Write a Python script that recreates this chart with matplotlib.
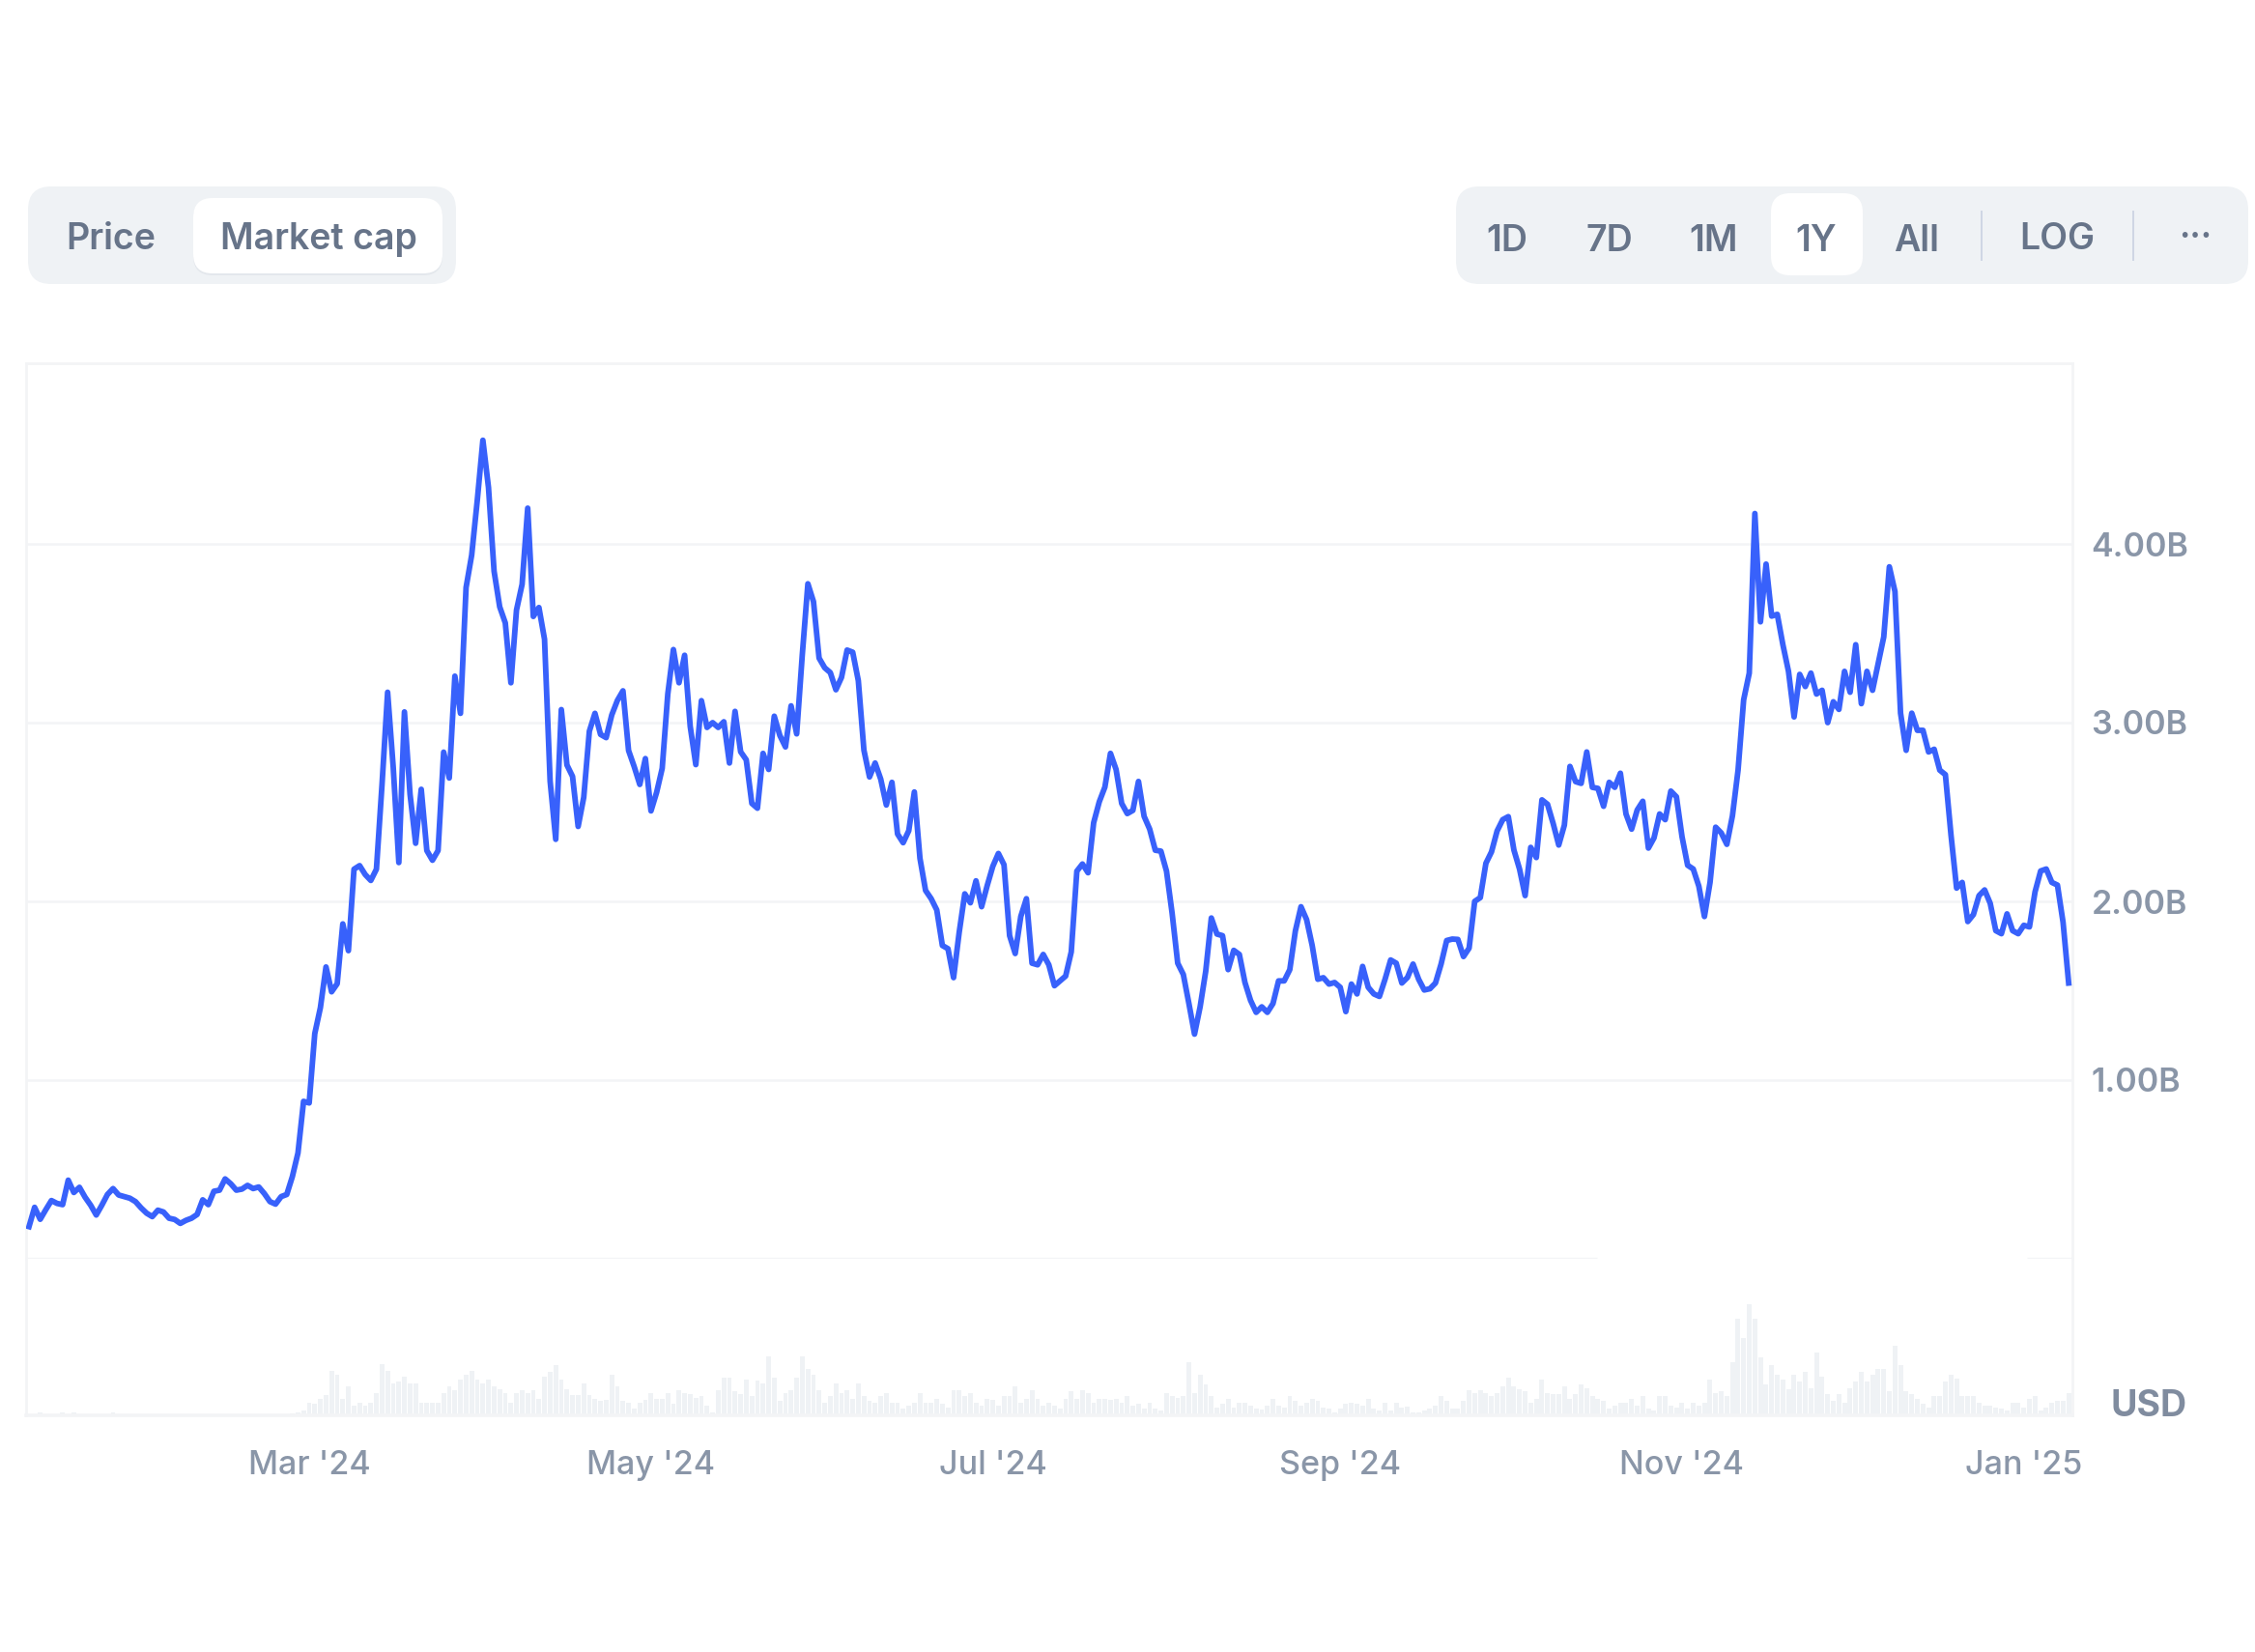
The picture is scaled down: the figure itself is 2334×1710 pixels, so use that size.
import pandas as pd
import matplotlib.pyplot as plt
from matplotlib.patches import FancyBboxPatch

# ---- Data ----
y_ticks = [1, 2, 3, 4]
y_labels = ["1.00B", "2.00B", "3.00B", "4.00B"]
x_ticks = ["2024-03-01", "2024-05-01", "2024-07-01", "2024-09-01", "2024-11-01", "2025-01-01"]
x_labels = ["Mar '24", "May '24", "Jul '24", "Sep '24", "Nov '24", "Jan '25"]

# daily market cap in billions, starting 2024-01-11
mcap = [
    .18, .288, .221, .275, .326, .31, .303, .44, .371, .40, .345, .30, .245, .30, .36, .393, .357, .348, .339, .32,
    .285, .255, .236, .272, .262, .227, .22, .198, .215, .227, .248, .33, .303, .378, .384, .447, .42, .384, .39, .411,
    .393, .402, .365, .32, .306, .348, .36, .46, .592, .881, .872, 1.26, 1.405, 1.633, 1.494, 1.539, 1.874, 1.724, 2.18, 2.2,
    2.15, 2.117, 2.18, 2.654, 3.17, 2.75, 2.217, 3.06, 2.6, 2.325, 2.627, 2.284, 2.23, 2.284,
    2.835, 2.69, 3.26, 3.052, 3.756, 3.937, 4.244, 4.58, 4.316, 3.847, 3.648, 3.558, 3.223, 3.63, 3.774, 4.2,
    3.594, 3.644, 3.467, 2.672, 2.347, 3.073, 2.763, 2.699, 2.419, 2.582, 2.952, 3.052, 2.934, 2.916, 3.043, 3.124,
    3.178, 2.844, 2.754, 2.654, 2.799, 2.506, 2.609, 2.744, 3.16, 3.409, 3.223, 3.377, 2.979,
    2.765, 3.123, 2.973, 3.0, 2.973, 3.005, 2.774, 3.063, 2.837, 2.792, 2.548, 2.521, 2.828, 2.738, 3.036, 2.928,
    2.864, 3.094, 2.937, 3.379, 3.777, 3.677, 3.361, 3.307, 3.28, 3.184, 3.253, 3.406, 3.394, 3.235, 2.846, 2.696,
    2.774, 2.684, 2.539, 2.666, 2.377, 2.328, 2.395, 2.612, 2.241, 2.061, 2.015, 1.952, 1.753, 1.735, 1.573, 1.826,
    2.042, 1.992, 2.115, 1.970, 2.088, 2.196, 2.268, 2.205, 1.808, 1.708, 1.916, 2.015, 1.654, 1.645, 1.703, 1.645,
    1.528, 1.555, 1.582, 1.717, 2.169, 2.209, 2.16, 2.44, 2.557, 2.639, 2.828, 2.738, 2.548, 2.491, 2.509, 2.671,
    2.476, 2.404, 2.286, 2.281, 2.169, 1.934, 1.654, 1.591, 1.428, 1.257, 1.41, 1.609, 1.907, 1.817, 1.808, 1.618,
    1.726, 1.703, 1.546, 1.446, 1.379, 1.41, 1.379, 1.428, 1.555, 1.555, 1.618, 1.835, 1.970, 1.898, 1.753, 1.564,
    1.573, 1.537, 1.546, 1.519, 1.383, 1.537, 1.482, 1.636, 1.519, 1.482, 1.468, 1.564, 1.672, 1.654,
    1.543, 1.574, 1.649, 1.564, 1.504, 1.511, 1.543, 1.649, 1.781, 1.789, 1.787, 1.691, 1.738, 2.0, 2.021, 2.213,
    2.277, 2.394, 2.457, 2.474, 2.287, 2.181, 2.032, 2.302, 2.245, 2.568, 2.543, 2.436, 2.315, 2.426, 2.755, 2.67,
    2.66, 2.836, 2.638, 2.632, 2.532, 2.666, 2.638, 2.717, 2.489, 2.404, 2.511, 2.56, 2.298, 2.355, 2.489, 2.457,
    2.617, 2.585, 2.362, 2.202, 2.181, 2.085, 1.915, 2.106, 2.415, 2.383, 2.319, 2.479, 2.734, 3.128, 3.277, 4.17,
    3.564, 3.887, 3.596, 3.606, 3.436, 3.287, 3.032, 3.27, 3.202, 3.277, 3.16, 3.181, 3.0, 3.117, 3.074, 3.287,
    3.17, 3.436, 3.106, 3.287, 3.181, 3.33, 3.479, 3.872, 3.734, 3.053, 2.845, 3.053, 2.957, 2.957, 2.836, 2.851,
    2.734, 2.709, 2.372, 2.074, 2.106, 1.887, 1.926, 2.032, 2.064, 1.989, 1.836, 1.819, 1.93, 1.836, 1.819, 1.866,
    1.857, 2.053, 2.17, 2.181, 2.106, 2.091, 1.883, 1.543,
]

# daily volume, arbitrary units (only the relative height can be read)
volume = [
    3, 3, 10, 3, 3, 3, 10, 3, 10, 3, 3, 3, 3, 3, 3, 10, 3, 3, 3, 3, 3, 3, 3, 3, 3, 3,
    3, 3, 3, 3, 3, 3, 3, 3, 3, 3, 3, 3, 3, 3, 3, 3, 3, 3, 3, 3, 3, 5, 8,
    15, 40, 35, 50, 62, 138, 125, 50, 90, 30, 40, 30, 40, 70, 158, 138, 100, 105, 120, 100,
    100, 40, 40, 40, 40, 68, 90, 78, 110, 125, 138, 112, 98, 110, 90, 80, 70, 40, 70, 78, 70,
    78, 50, 120, 135, 155, 110, 80, 62, 62, 100, 62, 50, 45, 48, 125, 90, 45, 40, 20, 38,
    48, 70, 50, 50, 68, 35, 78, 68, 65, 55, 60, 30, 10, 78, 118, 118, 75, 65, 110, 60,
    108, 100, 182, 118, 45, 70, 78, 118, 182, 145, 125, 78, 40, 60, 98, 68, 78, 50, 98, 60,
    45, 40, 60, 70, 40, 40, 20, 30, 40, 70, 40, 40, 50, 35, 25, 78, 78, 60, 70, 40,
    30, 50, 48, 30, 60, 60, 90, 40, 50, 78, 50, 30, 40, 30, 20,
    50, 75, 50, 78, 70, 40, 50, 50, 48, 50, 40, 60, 30, 35, 20, 40, 20, 15, 70, 60,
    55, 60, 165, 70, 125, 95, 60, 25, 35, 50, 25, 40, 38, 30, 20, 18, 30, 50, 30, 25,
    60, 45, 30, 40, 50, 45, 25, 20, 8, 20, 35, 38, 35, 30, 50, 20, 15, 40, 15, 40,
    25, 28, 8, 10, 15, 20, 30, 60, 45, 20, 20, 45, 78, 70, 78, 70, 60, 70, 90, 118,
    90, 80, 75, 40, 50, 110, 70, 65, 65, 90, 50, 65, 95, 85, 60, 50, 45, 20, 30, 38,
    40, 50, 30, 60, 20, 15, 60, 60, 30, 25, 40, 20, 40, 30, 40, 110, 70, 75, 60, 165,
    300, 240, 345, 300, 180, 95, 155, 125, 110, 80, 125, 105, 135, 85, 195, 120, 65, 45, 65, 40,
    85, 105, 135, 105, 125, 145, 145, 75, 215, 155, 75, 65, 50, 35, 25, 60, 60, 105, 125, 115,
    60, 60, 60, 40, 30, 30, 25, 20, 15, 40, 40, 25, 50, 60, 15, 25, 40, 45, 45, 70,
]

W, H = 2334, 1710
AX_L, AX_R = 27, 2145
MAIN_T, ZERO_Y, VOL_B = 376, 1303, 1465

BLUE = "#3861FB"
PILL = "#EFF2F5"
GRID = "#F3F4F6"
LABEL = "#8A96A8"
BUTTON = "#677489"

plt.rcParams["font.family"] = ["Inter", "DejaVu Sans"]

fig = plt.figure(figsize=(W / 100, H / 100), dpi=100, facecolor="white")


def add_px_axes(left, top, right, bottom):
    return fig.add_axes([left / W, 1 - bottom / H, (right - left) / W, (bottom - top) / H])


# ---- Line panel ----
dates = pd.date_range("2024-01-11", periods=len(mcap), freq="D")
vol_dates = pd.date_range(end=dates[-1], periods=len(volume), freq="D")
x_min, x_max = pd.Timestamp("2024-01-10 11:30"), pd.Timestamp("2025-01-09 16:00")

ax = add_px_axes(AX_L, MAIN_T, AX_R, ZERO_Y)
ax.plot(dates, mcap, color=BLUE, lw=4.2, solid_joinstyle="round", zorder=3)
ax.set_xlim(x_min, x_max)
ax.set_ylim(0, 927 / 185)
ax.grid(axis="y", color=GRID, lw=1.8)
ax.set_axisbelow(True)
ax.set_xticks([])
ax.yaxis.tick_right()
ax.set_yticks(y_ticks, y_labels)
ax.tick_params(axis="y", length=0, pad=14, labelsize=24.5, labelcolor=LABEL)
for label in ax.get_yticklabels():
    label.set_fontweight(600)
ax.spines["bottom"].set_visible(False)
for side in ["left", "right", "top"]:
    ax.spines[side].set_color(GRID)
    ax.spines[side].set_linewidth(2)
# zero line has a gap in the original
ax.hlines(0, x_min, pd.Timestamp("2024-10-16 18:00"), color=GRID, lw=2.4, clip_on=False)
ax.hlines(0, pd.Timestamp("2025-01-01 12:00"), x_max, color=GRID, lw=2.4, clip_on=False)

# ---- Volume panel ----
vol_ax = add_px_axes(AX_L, ZERO_Y, AX_R, VOL_B)
vol_ax.bar(vol_dates, volume, width=0.85, color=PILL, linewidth=0)
vol_ax.set_xlim(x_min, x_max)
vol_ax.set_ylim(0, 486)
vol_ax.set_yticks([])
vol_ax.set_xticks(pd.to_datetime(x_ticks), x_labels)
vol_ax.tick_params(axis="x", length=0, pad=26, labelsize=24.5, labelcolor=LABEL)
for label in vol_ax.get_xticklabels():
    label.set_fontweight(500)
vol_ax.spines["top"].set_visible(False)
for side in ["left", "right"]:
    vol_ax.spines[side].set_color(GRID)
    vol_ax.spines[side].set_linewidth(2)
vol_ax.spines["bottom"].set_color(GRID)
vol_ax.spines["bottom"].set_linewidth(2.6)

# ---- Buttons, drawn in pixel coordinates ----
ui = fig.add_axes([0, 0, 1, 1], zorder=5)
ui.set_xlim(0, W)
ui.set_ylim(H, 0)
ui.axis("off")


def pill(x0, y0, x1, y1, color, radius):
    ui.add_patch(FancyBboxPatch((x0 + radius, y0 + radius), x1 - x0 - 2 * radius, y1 - y0 - 2 * radius,
                                boxstyle=f"round,pad={radius},rounding_size={radius}",
                                fc=color, ec="none"))


pill(29, 193, 472, 294, PILL, 24)
pill(200, 206, 458, 285, "#E3E7EC", 20)
pill(200, 205, 458, 283, "white", 20)
pill(1507, 193, 2327, 294, PILL, 24)
pill(1833, 200, 1928, 285, "white", 20)

buttons = [("Price", 115, 244), ("Market cap", 330, 244),
           ("1D", 1560, 246), ("7D", 1666, 246), ("1M", 1774, 246), ("1Y", 1880, 246),
           ("All", 1984, 246), ("LOG", 2129, 244)]
for name, bx, by in buttons:
    ui.text(bx, by, name, ha="center", va="center_baseline", fontsize=27, fontweight=600, color=BUTTON)
ui.text(2272, 247, "···", ha="center", va="center", fontsize=26, fontweight=600, color=BUTTON)

for sep_x in [2051, 2208]:
    ui.plot([sep_x, sep_x], [219, 269], color="#CFD6E4", lw=1.4)

ui.text(2264, 1452, "USD", ha="right", va="center_baseline", fontsize=27, fontweight=700, color="#808C9F")

fig.savefig("out.png", dpi=100, facecolor="white")
